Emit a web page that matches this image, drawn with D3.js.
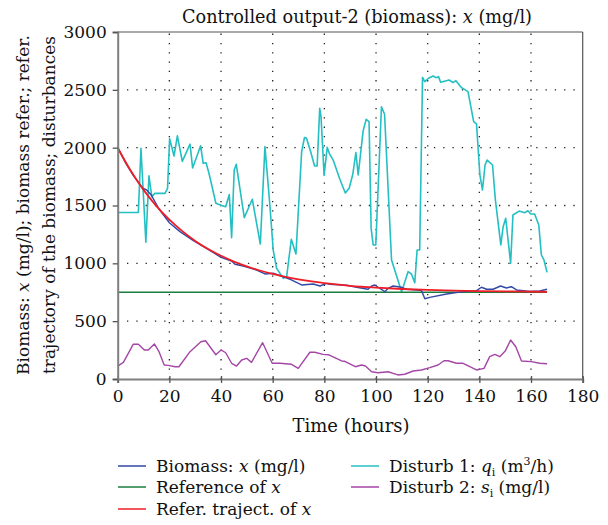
<!DOCTYPE html>
<html>
<head>
<meta charset="utf-8">
<script src="https://cdn.jsdelivr.net/npm/d3@7"></script>
<style>
  body { margin: 0; background: #fff; }
  svg text { font-family: "DejaVu Serif", serif; fill: #111; }
</style>
</head>
<body>
<svg id="chart" width="608" height="525"></svg>
<script>
// values
const xTicks = [0, 20, 40, 60, 80, 100, 120, 140, 160, 180];
const yTicks = [0, 500, 1000, 1500, 2000, 2500, 3000];

const biomassHours = [0, 3, 6, 9.7, 11.2, 13, 16, 20, 24.1, 29.3, 35, 40, 44.1, 45.4, 48.6, 53.8, 57, 60.2, 64.7, 67, 71.2, 75.7, 78.3, 80.8, 82.1, 88.6, 92.5, 96.9, 98.3, 99.5, 100.8, 103.4, 104.7, 106.6, 109.9, 111.8, 115.7, 117.6, 118.9, 120.8, 127.3, 133.7, 138.9, 140.8, 142.8, 145.3, 148.2, 150.5, 152.4, 154.4, 159.5, 163.4, 166.2];
const biomassValues = [2000, 1870, 1760, 1650, 1634, 1590, 1470, 1351, 1274, 1196, 1120, 1052, 1020, 992, 977, 942, 908, 914, 879, 860, 813, 821, 804, 827, 819, 810, 793, 776, 804, 813, 793, 755, 784, 804, 793, 776, 770, 764, 694, 706, 735, 755, 764, 793, 776, 776, 804, 787, 798, 770, 758, 761, 776];

const referenceHours = [0, 166.2];
const referenceValues = [750, 750];

const trajectHours = [0, 5, 10, 15, 20, 25, 30, 35, 40, 45, 50, 55, 60, 65, 70, 75, 80, 90, 100, 110, 120, 130, 140, 150, 166.2];
const trajectValues = [2000, 1802, 1635, 1495, 1377, 1278, 1194, 1124, 1065, 1015, 973, 938, 908, 883, 862, 844, 829, 806, 790, 778, 770, 764, 760, 757, 754];

const disturb1Hours = [0, 8, 9, 10.9, 12.1, 13.2, 14.4, 18.3, 19.3, 20.1, 21.8, 23.1, 25, 28, 29, 32.1, 33.1, 34.2, 35.4, 38, 40.2, 41.8, 43.2, 44.1, 45.1, 45.9, 49, 52.1, 55.2, 57, 58.9, 60.2, 61.5, 64.1, 65.4, 67.2, 69, 71.2, 72.3, 73.1, 74.7, 76.2, 77.2, 78.2, 78.7, 79.9, 81.1, 81.9, 83.4, 86, 88.1, 89.6, 91, 92.2, 93.1, 95, 96.2, 97.3, 98.1, 98.9, 99.9, 102.1, 103.3, 106, 109.9, 112.4, 113.7, 115, 115.9, 116.9, 118, 118.9, 120.3, 122.1, 123.2, 124.2, 125, 128.3, 129.8, 130.9, 133.1, 135.6, 137.8, 138.9, 140.2, 141.2, 142.2, 143, 145.1, 146.2, 148.3, 149.2, 150.2, 152.1, 153, 155.4, 157.6, 158.8, 159.9, 161.4, 163, 164, 165, 166.2];
const disturb1Values = [1440, 1440, 1995, 1182, 1757, 1577, 1605, 1605, 1649, 2078, 1928, 2102, 1882, 2030, 1825, 2016, 1865, 1870, 1772, 1519, 1500, 1490, 1595, 1222, 1807, 1856, 1395, 1554, 1167, 2009, 1504, 1115, 957, 870, 885, 1208, 1081, 1965, 2088, 2081, 1965, 1842, 1842, 2340, 2270, 1760, 2003, 1951, 1893, 1727, 1608, 1649, 1770, 1957, 1764, 2145, 2245, 2225, 1303, 1159, 1159, 2354, 2289, 1029, 755, 928, 908, 833, 1115, 1115, 2608, 2571, 2600, 2620, 2605, 2614, 2565, 2585, 2562, 2579, 2519, 2484, 2225, 2205, 1764, 1634, 1850, 1893, 1850, 1548, 1159, 1317, 1389, 1000, 1418, 1452, 1438, 1455, 1427, 1427, 1331, 1072, 1029, 922];

const disturb2Hours = [0, 2.2, 6, 8, 10.3, 11.8, 14.2, 16, 18, 19.6, 22.2, 23.7, 28, 32.2, 34, 38, 40, 41.8, 44.1, 46, 48, 49.9, 51.8, 56.1, 59.8, 62.8, 67.3, 69.9, 74.4, 76.3, 79.5, 81.5, 86.7, 87.9, 92, 94.4, 95.9, 98.3, 100.8, 104.7, 106.6, 108.5, 111.1, 114.4, 117.6, 120.8, 124, 126.3, 127.9, 131.1, 133.7, 136.3, 138.9, 141.8, 144, 146, 147.9, 150.1, 152.1, 154.1, 156.3, 160.1, 163.4, 166.2];
const disturb2Values = [112, 144, 300, 300, 251, 251, 303, 236, 121, 118, 106, 106, 236, 322, 331, 210, 251, 227, 136, 112, 164, 179, 144, 314, 136, 136, 127, 92, 231, 231, 213, 210, 156, 153, 106, 121, 112, 63, 54, 63, 49, 35, 41, 69, 78, 98, 121, 158, 158, 136, 136, 106, 78, 92, 193, 213, 193, 245, 337, 279, 156, 150, 136, 132];

const seriesNames = ["biomass", "reference", "traject", "disturb1", "disturb2"];
const seriesColors = ["#3349a6", "#1b7d3e", "#ee1d26", "#24bfc2", "#a446a6"];

const svg = d3.select("#chart");
const plotLeft = 117.7, plotRight = 582.7, plotTop = 32, plotBottom = 379;

const x = d3.scaleLinear().domain([0, 180]).range([plotLeft, plotRight]);
const y = d3.scaleLinear().domain([0, 3000]).range([plotBottom, plotTop]);

// dotted grid
const grid = svg.append("g").attr("stroke", "#222").attr("stroke-width", 1.3).attr("stroke-dasharray", "1.3,8");
grid.selectAll(".gx").data(xTicks.slice(1, -1)).enter().append("line")
  .attr("x1", d => x(d)).attr("x2", d => x(d)).attr("y1", plotBottom).attr("y2", plotTop);
grid.selectAll(".gy").data(yTicks.slice(1, -1)).enter().append("line")
  .attr("y1", d => y(d)).attr("y2", d => y(d)).attr("x1", plotLeft).attr("x2", plotRight);

// frame
svg.append("line").attr("x1", plotLeft).attr("x2", plotRight).attr("y1", plotTop).attr("y2", plotTop).attr("stroke", "#555").attr("stroke-width", 1.2);
svg.append("line").attr("x1", plotRight).attr("x2", plotRight).attr("y1", plotTop).attr("y2", plotBottom).attr("stroke", "#555").attr("stroke-width", 1.2);

// series
const line = d3.line().x(d => x(d[0])).y(d => y(d[1]));
const pairs = (hs, vs) => hs.map((h, i) => [h, vs[i]]);
const series = [
  pairs(disturb1Hours, disturb1Values),
  pairs(disturb2Hours, disturb2Values),
  pairs(referenceHours, referenceValues),
  pairs(biomassHours, biomassValues),
  pairs(trajectHours, trajectValues)
];
const order = [3, 4, 1, 0, 2];
const widths = [1.6, 1.4, 1.3, 1.4, 1.8];
series.forEach((s, i) => {
  svg.append("path").datum(s)
    .attr("fill", "none")
    .attr("stroke", seriesColors[order[i]])
    .attr("stroke-width", widths[i])
    .attr("stroke-linejoin", "round")
    .attr("d", i === 4 ? line.curve(d3.curveMonotoneX) : line);
});

// axes
const xAxis = svg.append("g").attr("transform", "translate(0," + plotBottom + ")")
  .call(d3.axisBottom(x).tickValues(xTicks).tickFormat(d3.format("d")).tickSize(4).tickPadding(7));
const yAxis = svg.append("g").attr("transform", "translate(" + plotLeft + ",0)")
  .call(d3.axisLeft(y).tickValues(yTicks).tickFormat(d3.format("d")).tickSize(5).tickPadding(6));
[xAxis, yAxis].forEach(a => {
  a.attr("font-family", null);
  a.select(".domain").attr("stroke", "#7f7f7f").attr("stroke-width", 2);
  a.selectAll(".tick line").attr("stroke", "#555").attr("stroke-width", 1.3);
  a.selectAll("text").attr("font-size", 17).attr("fill", "#111");
});
xAxis.selectAll(".tick line").attr("y1", -3);

// title and axis labels
const title = svg.append("text").attr("x", 357).attr("y", 23).attr("text-anchor", "middle").attr("font-size", 17.7);
title.append("tspan").text("Controlled output-2 (biomass): ");
title.append("tspan").attr("font-style", "italic").text("x");
title.append("tspan").text(" (mg/l)");

svg.append("text").attr("x", 351).attr("y", 432).attr("text-anchor", "middle").attr("font-size", 18).text("Time (hours)");

const yl1 = svg.append("text").attr("transform", "translate(29,205) rotate(-90)").attr("text-anchor", "middle").attr("font-size", 17);
yl1.append("tspan").text("Biomass: ");
yl1.append("tspan").attr("font-style", "italic").text("x");
yl1.append("tspan").text(" (mg/l); biomass refer.; refer.");
svg.append("text").attr("transform", "translate(55,205) rotate(-90)").attr("text-anchor", "middle").attr("font-size", 17)
  .text("trajectory of the biomass; disturbances");

// legend
const legendX = [118, 118, 118, 351, 351];
const legendY = [466, 487, 509, 466, 487];
const legendParts = [
  [["Biomass: ", ""], ["x", "italic"], [" (mg/l)", ""]],
  [["Reference of ", ""], ["x", "italic"]],
  [["Refer. traject. of ", ""], ["x", "italic"]],
  [["Disturb 1: ", ""], ["q", "italic"], ["i", "sub"], [" (m", "back"], ["3", "sup"], ["/h)", "back"]],
  [["Disturb 2: ", ""], ["s", "italic"], ["i", "sub"], [" (mg/l)", "back"]]
];
const lg = svg.append("g");
seriesNames.forEach((n, i) => {
  lg.append("line").attr("x1", legendX[i]).attr("x2", legendX[i] + 28)
    .attr("y1", legendY[i]).attr("y2", legendY[i])
    .attr("stroke", seriesColors[i]).attr("stroke-width", 1.5);
  const t = lg.append("text").attr("x", legendX[i] + 38).attr("y", legendY[i] + 6).attr("font-size", 17);
  let shift = 0;
  legendParts[i].forEach(p => {
    const ts = t.append("tspan").text(p[0]);
    if (p[1] === "italic") ts.attr("font-style", "italic");
    if (p[1] === "back") { ts.attr("dy", -shift); shift = 0; }
    if (p[1] === "sub") { ts.attr("font-size", 11).attr("dy", 4); shift = 4; }
    if (p[1] === "sup") { ts.attr("font-size", 11).attr("dy", -7); shift = -7; }
  });
});
</script>
</body>
</html>
